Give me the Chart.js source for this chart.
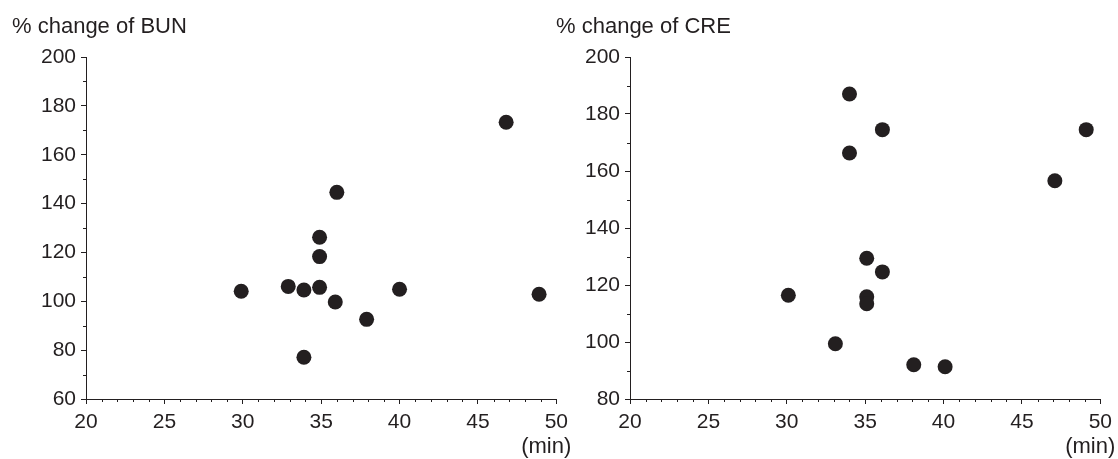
<!DOCTYPE html>
<html>
<head>
<meta charset="utf-8">
<script src="https://cdn.jsdelivr.net/npm/chart.js@4/dist/chart.umd.min.js"></script>
<style>
    body { margin: 0; background: #fff; }
    .box { position: absolute; top: 0; width: 574px; height: 459px; }
</style>
</head>
<body>
<div class="box" style="left:0px"><canvas id="bunChart" width="574" height="459"></canvas></div>
<div class="box" style="left:544px"><canvas id="creChart" width="574" height="459"></canvas></div>
<script>
// x = time (min), y = % change
var bunTime = [29.9, 32.9, 33.9, 34.9, 34.9, 34.9, 35.9, 37.9, 40.0, 48.9, 33.9, 36.0, 46.8];
var bunChange = [104.1, 106.1, 104.6, 105.7, 118.3, 126.2, 99.7, 92.6, 104.9, 102.9, 77.1, 144.6, 173.3];

var creTime = [30.1, 33.1, 35.1, 36.1, 35.1, 35.1, 38.1, 40.1, 34.0, 36.1, 34.0, 47.1, 49.1];
var creChange = [116.4, 99.4, 129.4, 124.6, 115.9, 113.4, 92.0, 91.3, 187.0, 174.5, 166.3, 156.6, 174.5];

var timeTicks = [20, 25, 30, 35, 40, 45, 50];
var bunTicks = [60, 80, 100, 120, 140, 160, 180, 200];
var creTicks = [80, 100, 120, 140, 160, 180, 200];

var ink = "#231f20";
var fontName = "'Liberation Sans', Arial, sans-serif";

// title, "(min)" and the small ticks between the labelled ones
var extras = {
    id: "extras",
    afterDraw: function (chart) {
        var ctx = chart.ctx;
        var x = chart.scales.x;
        var y = chart.scales.y;
        ctx.save();
        ctx.strokeStyle = ink;
        ctx.lineWidth = 1;
        ctx.beginPath();
        for (var v = x.min; v <= x.max; v++) {
            if (v % 5 == 0) continue;
            var px = Math.round(x.getPixelForValue(v)) + 0.5;
            ctx.moveTo(px, x.top);
            ctx.lineTo(px, x.top + 3);
        }
        for (var w = y.min; w <= y.max; w += 10) {
            if (w % 20 == 0) continue;
            var py = Math.round(y.getPixelForValue(w)) + 0.5;
            ctx.moveTo(y.right - 3, py);
            ctx.lineTo(y.right, py);
        }
        ctx.stroke();

        ctx.fillStyle = ink;
        ctx.font = "22px " + fontName;
        ctx.textAlign = "left";
        ctx.textBaseline = "alphabetic";
        ctx.fillText(chart.options.plugins.extras.title, 12, 33);
        ctx.textAlign = "right";
        ctx.fillText("(min)", x.right + 15, x.top + 54);
        ctx.restore();
    }
};

function makeChart(id, title, xs, ys, yTicks) {
    var pts = [];
    for (var i = 0; i < xs.length; i++) {
        pts.push({ x: xs[i], y: ys[i] });
    }
    return new Chart(document.getElementById(id), {
        type: "scatter",
        data: {
            datasets: [{
                data: pts,
                backgroundColor: ink,
                borderWidth: 0,
                pointRadius: 7.5,
                pointHoverRadius: 7.5
            }]
        },
        options: {
            responsive: false,
            animation: false,
            events: [],
            layout: { padding: { top: 57, right: 16, left: 0, bottom: 0 } },
            plugins: {
                legend: { display: false },
                tooltip: { enabled: false },
                extras: { title: title }
            },
            scales: {
                x: {
                    type: "linear",
                    min: timeTicks[0],
                    max: timeTicks[timeTicks.length - 1],
                    afterBuildTicks: function (s) {
                        s.ticks = timeTicks.map(function (v) { return { value: v }; });
                    },
                    afterFit: function (s) { s.height = 60; },
                    border: { color: ink, width: 1 },
                    grid: { drawOnChartArea: false, tickLength: 5, color: ink },
                    ticks: { color: ink, padding: 6, autoSkip: false, maxRotation: 0, font: { family: fontName, size: 21 } }
                },
                y: {
                    type: "linear",
                    min: yTicks[0],
                    max: yTicks[yTicks.length - 1],
                    afterBuildTicks: function (s) {
                        s.ticks = yTicks.map(function (v) { return { value: v }; });
                    },
                    afterFit: function (s) { s.width = 86; },
                    border: { color: ink, width: 1 },
                    grid: { drawOnChartArea: false, tickLength: 5, color: ink },
                    ticks: { color: ink, padding: 5, autoSkip: false, font: { family: fontName, size: 21 } }
                }
            }
        },
        plugins: [extras]
    });
}

makeChart("bunChart", "% change of BUN", bunTime, bunChange, bunTicks);
makeChart("creChart", "% change of CRE", creTime, creChange, creTicks);
</script>
</body>
</html>
